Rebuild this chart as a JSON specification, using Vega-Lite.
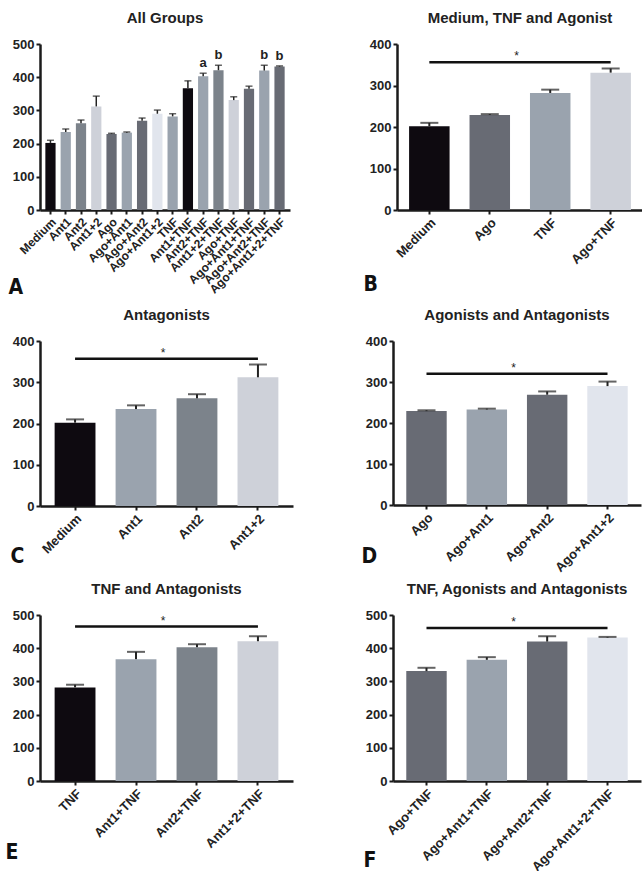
{
  "$schema": "https://vega.github.io/schema/vega-lite/v6.json",
  "background": "white",
  "padding": {"left": 5, "top": 11, "right": 0, "bottom": 0},
  "datasets": {
    "groups": [
      {"group": "Medium", "value": 202, "hi": 210, "sig": ""},
      {"group": "Ant1", "value": 235, "hi": 244, "sig": ""},
      {"group": "Ant2", "value": 261, "hi": 271, "sig": ""},
      {"group": "Ant1+2", "value": 312, "hi": 343, "sig": ""},
      {"group": "Ago", "value": 229, "hi": 231, "sig": ""},
      {"group": "Ago+Ant1", "value": 233, "hi": 235, "sig": ""},
      {"group": "Ago+Ant2", "value": 269, "hi": 277, "sig": ""},
      {"group": "Ago+Ant1+2", "value": 290, "hi": 301, "sig": ""},
      {"group": "TNF", "value": 282, "hi": 290, "sig": ""},
      {"group": "Ant1+TNF", "value": 367, "hi": 389, "sig": ""},
      {"group": "Ant2+TNF", "value": 403, "hi": 412, "sig": "a"},
      {"group": "Ant1+2+TNF", "value": 421, "hi": 436, "sig": "b"},
      {"group": "Ago+TNF", "value": 331, "hi": 341, "sig": ""},
      {"group": "Ago+Ant1+TNF", "value": 365, "hi": 373, "sig": ""},
      {"group": "Ago+Ant2+TNF", "value": 420, "hi": 436, "sig": "b"},
      {"group": "Ago+Ant1+2+TNF", "value": 432, "hi": 434, "sig": "b"}
    ]
  },
  "resolve": {"scale": {"color": "independent", "x": "independent", "y": "independent"}},
  "spacing": 7,
  "vconcat": [
    {
      "spacing": 11,
      "resolve": {"scale": {"color": "independent", "x": "independent", "y": "independent"}},
      "vconcat": [
        {
          "spacing": 73,
          "resolve": {"scale": {"color": "independent", "x": "independent", "y": "independent"}},
          "hconcat": [
            {
              "title": "All Groups",
              "width": 250, "height": 166,
              "data": {"name": "groups"},
              "encoding": {
                "x": {"field": "group", "type": "nominal",
                  "scale": {"domain": ["Medium","Ant1","Ant2","Ant1+2","Ago","Ago+Ant1","Ago+Ant2","Ago+Ant1+2","TNF","Ant1+TNF","Ant2+TNF","Ant1+2+TNF","Ago+TNF","Ago+Ant1+TNF","Ago+Ant2+TNF","Ago+Ant1+2+TNF"], "paddingInner": 0.33, "paddingOuter": 0.35},
                  "axis": {"title": "A", "titleX": -32, "titleY": 83, "labelFontSize": 12}},
                "y": {"field": "value", "type": "quantitative", "title": null, "scale": {"domain": [0, 500], "nice": false}, "axis": {"values": [0, 100, 200, 300, 400, 500]}}
              },
              "layer": [
                {"mark": {"type": "bar"},
                 "encoding": {
                   "color": {"field": "group", "type": "nominal", "legend": null,
                     "scale": {"domain": ["Medium","Ant1","Ant2","Ant1+2","Ago","Ago+Ant1","Ago+Ant2","Ago+Ant1+2","TNF","Ant1+TNF","Ant2+TNF","Ant1+2+TNF","Ago+TNF","Ago+Ant1+TNF","Ago+Ant2+TNF","Ago+Ant1+2+TNF"],
                       "range": ["#0e0a10","#9aa3ae","#7c838b","#ced1d9","#686b74","#9aa3ae","#686b74","#e1e5ed","#9aa3ae","#0e0a10","#9aa3ae","#7c838b","#ced1d9","#686b74","#9aa3ae","#686b74"]}}
                 }},
                {"mark": {"type": "rule", "color": "#222", "strokeWidth": 1.5},
                 "encoding": {"y2": {"field": "hi"}}},
                {"mark": {"type": "tick", "color": "#222", "thickness": 1.5, "size": 7},
                 "encoding": {"y": {"field": "hi", "type": "quantitative", "title": null, "scale": {"domain": [0, 500], "nice": false}, "axis": {"values": [0, 100, 200, 300, 400, 500]}}}},
                {"mark": {"type": "text", "baseline": "bottom", "dy": -3, "fontSize": 13, "fontWeight": "bold", "color": "#222"},
                 "encoding": {"y": {"field": "hi", "type": "quantitative", "title": null, "scale": {"domain": [0, 500], "nice": false}, "axis": {"values": [0, 100, 200, 300, 400, 500]}}, "text": {"field": "sig"}}}
              ]
            },
            {
              "title": "Medium, TNF and Agonist",
              "width": 246, "height": 166,
              "encoding": {
                "x": {"field": "group", "type": "nominal",
                  "scale": {"domain": ["Medium","Ago","TNF","Ago+TNF"], "paddingInner": 0.33, "paddingOuter": 0.2},
                  "axis": {"title": "B", "titleX": -34, "titleY": 80}},
                "y": {"field": "value", "type": "quantitative", "title": null, "scale": {"domain": [0, 400], "nice": false}, "axis": {"values": [0, 100, 200, 300, 400]}}
              },
              "layer": [
                {"data": {"name": "groups"},
                 "transform": [{"filter": {"field": "group", "oneOf": ["Medium","Ago","TNF","Ago+TNF"]}}],
                 "layer": [
                   {"mark": {"type": "bar"},
                    "encoding": {
                      "color": {"field": "group", "type": "nominal", "legend": null,
                        "scale": {"domain": ["Medium","Ago","TNF","Ago+TNF"], "range": ["#0e0a10","#686b74","#9aa3ae","#ced1d9"]}}
                    }},
                   {"mark": {"type": "rule", "color": "#222", "strokeWidth": 2},
                    "encoding": {"y2": {"field": "hi"}}},
                   {"mark": {"type": "tick", "color": "#222", "thickness": 2, "size": 18},
                    "encoding": {"y": {"field": "hi", "type": "quantitative", "title": null, "scale": {"domain": [0, 400], "nice": false}, "axis": {"values": [0, 100, 200, 300, 400]}}}}
                 ]},
                {"data": {"values": [{"group": "Medium", "group2": "Ago+TNF", "mid": "Ago", "y": 356, "star": "*"}]},
                 "layer": [
                   {"mark": {"type": "rule", "color": "#111", "strokeWidth": 2.5},
                    "encoding": {"x2": {"field": "group2"}, "y": {"field": "y", "type": "quantitative", "title": null, "scale": {"domain": [0, 400], "nice": false}, "axis": {"values": [0, 100, 200, 300, 400]}}}},
                   {"mark": {"type": "text", "baseline": "alphabetic", "dy": -2, "fontSize": 12, "color": "#222"},
                    "encoding": {"x": {"field": "mid", "type": "nominal", "bandPosition": 1.16, "title": "B"}, "y": {"field": "y", "type": "quantitative", "title": null, "scale": {"domain": [0, 400], "nice": false}, "axis": {"values": [0, 100, 200, 300, 400]}}, "text": {"field": "star"}}}
                 ]}
              ]
            }
          ]
        },
        {
          "spacing": 68,
          "resolve": {"scale": {"color": "independent", "x": "independent", "y": "independent"}},
          "hconcat": [
            {
              "title": "Antagonists",
              "width": 253, "height": 165,
              "encoding": {
                "x": {"field": "group", "type": "nominal",
                  "scale": {"domain": ["Medium","Ant1","Ant2","Ant1+2"], "paddingInner": 0.33, "paddingOuter": 0.24},
                  "axis": {"title": "C", "titleX": -30, "titleY": 56}},
                "y": {"field": "value", "type": "quantitative", "title": null, "scale": {"domain": [0, 400], "nice": false}, "axis": {"values": [0, 100, 200, 300, 400]}}
              },
              "layer": [
                {"data": {"name": "groups"},
                 "transform": [{"filter": {"field": "group", "oneOf": ["Medium","Ant1","Ant2","Ant1+2"]}}],
                 "layer": [
                   {"mark": {"type": "bar"},
                    "encoding": {
                      "color": {"field": "group", "type": "nominal", "legend": null,
                        "scale": {"domain": ["Medium","Ant1","Ant2","Ant1+2"], "range": ["#0e0a10","#9aa3ae","#7c838b","#ced1d9"]}}
                    }},
                   {"mark": {"type": "rule", "color": "#222", "strokeWidth": 2},
                    "encoding": {"y2": {"field": "hi"}}},
                   {"mark": {"type": "tick", "color": "#222", "thickness": 2, "size": 18},
                    "encoding": {"y": {"field": "hi", "type": "quantitative", "title": null, "scale": {"domain": [0, 400], "nice": false}, "axis": {"values": [0, 100, 200, 300, 400]}}}}
                 ]},
                {"data": {"values": [{"group": "Medium", "group2": "Ant1+2", "mid": "Ant1", "y": 357, "star": "*"}]},
                 "layer": [
                   {"mark": {"type": "rule", "color": "#111", "strokeWidth": 2.5},
                    "encoding": {"x2": {"field": "group2"}, "y": {"field": "y", "type": "quantitative", "title": null, "scale": {"domain": [0, 400], "nice": false}, "axis": {"values": [0, 100, 200, 300, 400]}}}},
                   {"mark": {"type": "text", "baseline": "alphabetic", "dy": -2, "fontSize": 12, "color": "#222"},
                    "encoding": {"x": {"field": "mid", "type": "nominal", "bandPosition": 1.16, "title": "C"}, "y": {"field": "y", "type": "quantitative", "title": null, "scale": {"domain": [0, 400], "nice": false}, "axis": {"values": [0, 100, 200, 300, 400]}}, "text": {"field": "star"}}}
                 ]}
              ]
            },
            {
              "title": "Agonists and Antagonists",
              "width": 248, "height": 164,
              "encoding": {
                "x": {"field": "group", "type": "nominal",
                  "scale": {"domain": ["Ago","Ago+Ant1","Ago+Ant2","Ago+Ant1+2"], "paddingInner": 0.33, "paddingOuter": 0.22},
                  "axis": {"title": "D", "titleX": -32, "titleY": 57}},
                "y": {"field": "value", "type": "quantitative", "title": null, "scale": {"domain": [0, 400], "nice": false}, "axis": {"values": [0, 100, 200, 300, 400]}}
              },
              "layer": [
                {"data": {"name": "groups"},
                 "transform": [{"filter": {"field": "group", "oneOf": ["Ago","Ago+Ant1","Ago+Ant2","Ago+Ant1+2"]}}],
                 "layer": [
                   {"mark": {"type": "bar"},
                    "encoding": {
                      "color": {"field": "group", "type": "nominal", "legend": null,
                        "scale": {"domain": ["Ago","Ago+Ant1","Ago+Ant2","Ago+Ant1+2"], "range": ["#686b74","#9aa3ae","#686b74","#e1e5ed"]}}
                    }},
                   {"mark": {"type": "rule", "color": "#222", "strokeWidth": 2},
                    "encoding": {"y2": {"field": "hi"}}},
                   {"mark": {"type": "tick", "color": "#222", "thickness": 2, "size": 18},
                    "encoding": {"y": {"field": "hi", "type": "quantitative", "title": null, "scale": {"domain": [0, 400], "nice": false}, "axis": {"values": [0, 100, 200, 300, 400]}}}}
                 ]},
                {"data": {"values": [{"group": "Ago", "group2": "Ago+Ant1+2", "mid": "Ago+Ant1", "y": 320, "star": "*"}]},
                 "layer": [
                   {"mark": {"type": "rule", "color": "#111", "strokeWidth": 2.5},
                    "encoding": {"x2": {"field": "group2"}, "y": {"field": "y", "type": "quantitative", "title": null, "scale": {"domain": [0, 400], "nice": false}, "axis": {"values": [0, 100, 200, 300, 400]}}}},
                   {"mark": {"type": "text", "baseline": "alphabetic", "dy": -2, "fontSize": 12, "color": "#222"},
                    "encoding": {"x": {"field": "mid", "type": "nominal", "bandPosition": 1.16, "title": "D"}, "y": {"field": "y", "type": "quantitative", "title": null, "scale": {"domain": [0, 400], "nice": false}, "axis": {"values": [0, 100, 200, 300, 400]}}, "text": {"field": "star"}}}
                 ]}
              ]
            }
          ]
        }
      ]
    },
    {
      "spacing": 70,
      "resolve": {"scale": {"color": "independent", "x": "independent", "y": "independent"}},
      "hconcat": [
        {
          "title": "TNF and Antagonists",
          "width": 253, "height": 166,
          "encoding": {
            "x": {"field": "group", "type": "nominal",
              "scale": {"domain": ["TNF","Ant1+TNF","Ant2+TNF","Ant1+2+TNF"], "paddingInner": 0.33, "paddingOuter": 0.24},
              "axis": {"title": "E", "titleX": -35, "titleY": 77}},
            "y": {"field": "value", "type": "quantitative", "title": null, "scale": {"domain": [0, 500], "nice": false}, "axis": {"values": [0, 100, 200, 300, 400, 500]}}
          },
          "layer": [
            {"data": {"name": "groups"},
             "transform": [{"filter": {"field": "group", "oneOf": ["TNF","Ant1+TNF","Ant2+TNF","Ant1+2+TNF"]}}],
             "layer": [
               {"mark": {"type": "bar"},
                "encoding": {
                  "color": {"field": "group", "type": "nominal", "legend": null,
                    "scale": {"domain": ["TNF","Ant1+TNF","Ant2+TNF","Ant1+2+TNF"], "range": ["#0e0a10","#9aa3ae","#7c838b","#ced1d9"]}}
                }},
               {"mark": {"type": "rule", "color": "#222", "strokeWidth": 2},
                "encoding": {"y2": {"field": "hi"}}},
               {"mark": {"type": "tick", "color": "#222", "thickness": 2, "size": 18},
                "encoding": {"y": {"field": "hi", "type": "quantitative", "title": null, "scale": {"domain": [0, 500], "nice": false}, "axis": {"values": [0, 100, 200, 300, 400, 500]}}}}
             ]},
            {"data": {"values": [{"group": "TNF", "group2": "Ant1+2+TNF", "mid": "Ant1+TNF", "y": 465, "star": "*"}]},
             "layer": [
               {"mark": {"type": "rule", "color": "#111", "strokeWidth": 2.5},
                "encoding": {"x2": {"field": "group2"}, "y": {"field": "y", "type": "quantitative", "title": null, "scale": {"domain": [0, 500], "nice": false}, "axis": {"values": [0, 100, 200, 300, 400, 500]}}}},
               {"mark": {"type": "text", "baseline": "alphabetic", "dy": -2, "fontSize": 12, "color": "#222"},
                "encoding": {"x": {"field": "mid", "type": "nominal", "bandPosition": 1.16, "title": "E"}, "y": {"field": "y", "type": "quantitative", "title": null, "scale": {"domain": [0, 500], "nice": false}, "axis": {"values": [0, 100, 200, 300, 400, 500]}}, "text": {"field": "star"}}}
             ]}
          ]
        },
        {
          "title": "TNF, Agonists and Antagonists",
          "width": 248, "height": 166,
          "encoding": {
            "x": {"field": "group", "type": "nominal",
              "scale": {"domain": ["Ago+TNF","Ago+Ant1+TNF","Ago+Ant2+TNF","Ago+Ant1+2+TNF"], "paddingInner": 0.33, "paddingOuter": 0.22},
              "axis": {"title": "F", "titleX": -30, "titleY": 85}},
            "y": {"field": "value", "type": "quantitative", "title": null, "scale": {"domain": [0, 500], "nice": false}, "axis": {"values": [0, 100, 200, 300, 400, 500]}}
          },
          "layer": [
            {"data": {"name": "groups"},
             "transform": [{"filter": {"field": "group", "oneOf": ["Ago+TNF","Ago+Ant1+TNF","Ago+Ant2+TNF","Ago+Ant1+2+TNF"]}}],
             "layer": [
               {"mark": {"type": "bar"},
                "encoding": {
                  "color": {"field": "group", "type": "nominal", "legend": null,
                    "scale": {"domain": ["Ago+TNF","Ago+Ant1+TNF","Ago+Ant2+TNF","Ago+Ant1+2+TNF"], "range": ["#686b74","#9aa3ae","#686b74","#e1e5ed"]}}
                }},
               {"mark": {"type": "rule", "color": "#222", "strokeWidth": 2},
                "encoding": {"y2": {"field": "hi"}}},
               {"mark": {"type": "tick", "color": "#222", "thickness": 2, "size": 18},
                "encoding": {"y": {"field": "hi", "type": "quantitative", "title": null, "scale": {"domain": [0, 500], "nice": false}, "axis": {"values": [0, 100, 200, 300, 400, 500]}}}}
             ]},
            {"data": {"values": [{"group": "Ago+TNF", "group2": "Ago+Ant1+2+TNF", "mid": "Ago+Ant1+TNF", "y": 461, "star": "*"}]},
             "layer": [
               {"mark": {"type": "rule", "color": "#111", "strokeWidth": 2.5},
                "encoding": {"x2": {"field": "group2"}, "y": {"field": "y", "type": "quantitative", "title": null, "scale": {"domain": [0, 500], "nice": false}, "axis": {"values": [0, 100, 200, 300, 400, 500]}}}},
               {"mark": {"type": "text", "baseline": "alphabetic", "dy": -2, "fontSize": 12, "color": "#222"},
                "encoding": {"x": {"field": "mid", "type": "nominal", "bandPosition": 1.16, "title": "F"}, "y": {"field": "y", "type": "quantitative", "title": null, "scale": {"domain": [0, 500], "nice": false}, "axis": {"values": [0, 100, 200, 300, 400, 500]}}, "text": {"field": "star"}}}
             ]}
          ]
        }
      ]
    }
  ],
  "config": {
    "font": "Liberation Sans",
    "view": {"stroke": null},
    "legend": {"disable": true},
    "title": {"fontSize": 15, "fontWeight": "bold", "color": "#222", "offset": 12, "font": "Liberation Sans"},
    "axis": {
      "grid": false,
      "domainColor": "#1b1b1b", "domainWidth": 2.5,
      "tickColor": "#1b1b1b", "tickWidth": 2, "tickSize": 4,
      "labelFont": "Liberation Sans", "labelFontWeight": "bold", "labelFontSize": 13, "labelColor": "#222", "labelPadding": 2
    },
    "axisY": {"labelOverlap": false},
    "axisX": {
      "labelAngle": -45, "labelFontSize": 13,
      "titleFont": "DejaVu Sans Condensed, Roboto, Liberation Sans, sans-serif", "titleFontSize": 21, "titleFontWeight": "bold", "titleColor": "#111",
      "titleAlign": "left", "titleBaseline": "alphabetic", "titleAngle": 0
    }
  }
}
